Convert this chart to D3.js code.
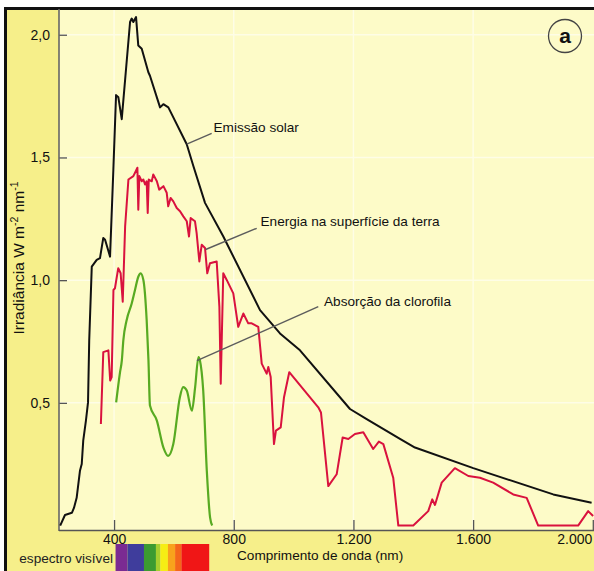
<!DOCTYPE html>
<html>
<head>
<meta charset="utf-8">
<script src="https://cdn.jsdelivr.net/npm/d3@7"></script>
<style>
  html, body { margin: 0; padding: 0; background: #fff; }
  svg { display: block; font-family: "Liberation Sans", Arial, sans-serif; }
</style>
</head>
<body>
<svg id="chart" width="594" height="571"></svg>
<script>
// Spectral irradiance (W m-2 nm-1) versus wavelength (nm)
const solarEmission = [
  [220,0],[236,0.043],[259,0.052],[266,0.072],[275,0.113],[286,0.223],[292,0.251],
  [297,0.346],[306,0.428],[313,0.502],[317,0.755],[325.5,1.055],[342,1.083],[353,1.09],
  [364,1.172],[370,1.165],[386.6,1.096],[397.7,1.451],[406.7,1.754],[414.4,1.745],
  [425.7,1.656],[453.5,2.052],[459,2.066],[464.5,2.052],[473.5,2.072],[481,1.956],
  [492.5,1.943],[514.6,1.847],[520,1.833],[553.7,1.704],[564.7,1.717],[581.4,1.704],
  [642.9,1.554],[665,1.465],[704,1.315],[765.2,1.178],[887.8,0.878],[954.6,0.783],
  [1021.4,0.714],[1188.5,0.475],[1244.3,0.434],[1355.6,0.353],[1405.7,0.318],
  [1600.5,0.234],[1867.8,0.127],[1996,0.093]
];

const surfaceEnergy = [
  [356,0.414],[364,0.707],[381,0.714],[387,0.591],[392,0.605],[398,0.96],[403,0.967],
  [414,1.049],[422,1.028],[429,0.912],[437,1.219],[448,1.41],[464.5,1.424],[472.5,1.444],
  [478,1.458],[481,1.287],[484.5,1.424],[492.5,1.403],[498,1.41],[503.5,1.39],[509,1.403],
  [512.5,1.274],[516,1.41],[526,1.403],[531,1.431],[543,1.403],[551,1.369],[565,1.383],
  [576,1.356],[581,1.301],[589,1.335],[598,1.321],[609.5,1.294],[620.5,1.281],[631.5,1.26],
  [643,1.24],[650.5,1.178],[656,1.253],[670.5,1.24],[676,1.192],[685,1.076],[693,1.144],
  [704,1.131],[711.5,1.028],[720.5,1.069],[743,1.076],[752,0.891],[756.5,0.578],
  [765,1.028],[776.5,1.001],[798.5,0.946],[815,0.81],[832,0.864],[848.5,0.824],[860,0.824],
  [882,0.81],[893.5,0.66],[910,0.619],[915.5,0.646],[923.5,0.605],[934.5,0.332],
  [941,0.387],[957,0.4],[968,0.523],[985.5,0.625],[1082.5,0.482],[1091.5,0.461],
  [1116,0.161],[1144,0.209],[1164,0.359],[1183,0.353],[1205,0.373],[1233,0.38],
  [1266,0.312],[1285,0.342],[1300,0.332],[1333,0.195],[1350,0],[1400,0],[1450,0.059],
  [1463.5,0.107],[1472.5,0.084],[1495,0.175],[1539,0.234],[1584,0.202],[1623,0.195],
  [1667,0.175],[1734,0.127],[1779,0.113],[1817.5,0],[1951,0],[1984.5,0.059],[2001,0.039]
];

const chlorophyllAbsorption = [
  [407,0.502],[420,0.625],[426,0.673],[431,0.755],[442,0.837],[459,0.905],[470,0.96],
  [481,1.014],[489,1.028],[498,1.001],[509,0.837],[515,0.673],[520,0.489],[543,0.428],
  [565,0.318],[581,0.284],[598,0.332],[620,0.523],[631,0.564],[643,0.55],[660,0.468],
  [671,0.564],[682,0.687],[687,0.673],[698,0.55],[710,0.223],[721,0.032],[728,0]
];

const yTicks = [0.5, 1.0, 1.5, 2.0];
const yTickLabels = ["0,5", "1,0", "1,5", "2,0"];
const xTicks = [400, 800, 1200, 1600, 2000];
const xTickLabels = ["400", "800", "1.200", "1.600", "2.000"];

// Visible spectrum bands: [start nm, end nm, colour]
const spectrumBands = [
  [405, 445, "#7a2b92"], [445, 500, "#3f3d9c"], [500, 540, "#3c9b31"],
  [540, 555, "#a6cf2e"], [555, 580, "#f6ee14"], [580, 604, "#f8a21c"],
  [604, 625, "#f4661a"], [625, 718, "#f01616"]
];

const seriesNames = ["Emissão solar", "Energia na superfície da terra", "Absorção da clorofila"];

const svg = d3.select("#chart");
const W = 594, H = 571;
const plot = { left: 59, right: 594, top: 8, bottom: 530 };

const x = d3.scaleLinear().domain([216, 2004]).range([plot.left, plot.right]);
const y = d3.scaleLinear().domain([-0.018, 2.109]).range([plot.bottom, plot.top]);

// Page frame and backgrounds
svg.append("rect").attr("x", 5).attr("y", 8).attr("width", W - 5).attr("height", H - 8)
  .attr("fill", "#f6ef8a");
svg.append("rect").attr("x", plot.left).attr("y", plot.top)
  .attr("width", plot.right - plot.left).attr("height", plot.bottom - plot.top)
  .attr("fill", "#fdfbc8");
svg.append("line").attr("x1", 4).attr("x2", W).attr("y1", 8.5).attr("y2", 8.5)
  .attr("stroke", "#111").attr("stroke-width", 3);
svg.append("line").attr("x1", 5.5).attr("x2", 5.5).attr("y1", 7).attr("y2", H)
  .attr("stroke", "#111").attr("stroke-width", 3);

// Faint grid
const grid = svg.append("g").attr("stroke", "#ffffff").attr("stroke-width", 1.5).attr("opacity", 0.55);
grid.selectAll("line.h").data(yTicks).join("line").attr("class", "h")
  .attr("x1", plot.left).attr("x2", plot.right)
  .attr("y1", d => y(d)).attr("y2", d => y(d));
grid.selectAll("line.v").data(xTicks.slice(0, 4)).join("line").attr("class", "v")
  .attr("x1", d => x(d)).attr("x2", d => x(d))
  .attr("y1", plot.top + 2).attr("y2", plot.bottom);

// Axes
const yAxis = d3.axisLeft(y).tickValues(yTicks)
  .tickFormat((d, i) => yTickLabels[i]).tickSize(-8).tickPadding(9);
const gy = svg.append("g").attr("transform", `translate(${plot.left},0)`).call(yAxis);
gy.select(".domain").remove();
gy.selectAll("line").attr("stroke", "#555").attr("stroke-width", 1.3);
gy.selectAll("text").attr("font-size", 14).attr("fill", "#111");

const xAxis = d3.axisBottom(x).tickValues(xTicks)
  .tickFormat((d, i) => xTickLabels[i]).tickSize(-10).tickPadding(4);
const gx = svg.append("g").attr("transform", `translate(0,${plot.bottom})`).call(xAxis);
gx.select(".domain").remove();
gx.selectAll("line").attr("stroke", "#555").attr("stroke-width", 1.3);
gx.selectAll("text").attr("font-size", 14).attr("fill", "#111");
// last label sits against the right edge of the page
gx.selectAll(".tick").filter(d => d === 2000).select("text")
  .attr("text-anchor", "end").attr("dx", -1);

svg.append("line").attr("x1", plot.left).attr("x2", plot.left)
  .attr("y1", plot.top + 1).attr("y2", plot.bottom + 1)
  .attr("stroke", "#666").attr("stroke-width", 1.6);
svg.append("line").attr("x1", plot.left).attr("x2", plot.right)
  .attr("y1", plot.bottom + 0.5).attr("y2", plot.bottom + 0.5)
  .attr("stroke", "#555").attr("stroke-width", 1.6);

// Curves
const lineSharp = d3.line().x(d => x(d[0])).y(d => y(d[1]));
const lineSmooth = d3.line().x(d => x(d[0])).y(d => y(d[1])).curve(d3.curveMonotoneX);

svg.append("path").datum(chlorophyllAbsorption).attr("d", lineSmooth)
  .attr("fill", "none").attr("stroke", "#58aa22").attr("stroke-width", 2.2)
  .attr("stroke-linejoin", "round");
svg.append("path").datum(surfaceEnergy).attr("d", lineSharp)
  .attr("fill", "none").attr("stroke", "#d9123e").attr("stroke-width", 2)
  .attr("stroke-linejoin", "round");
svg.append("path").datum(solarEmission).attr("d", lineSharp)
  .attr("fill", "none").attr("stroke", "#111").attr("stroke-width", 2)
  .attr("stroke-linejoin", "round");

// Series labels with leader lines (anchored on a point of each curve)
const annotations = [
  { name: seriesNames[0], anchor: [642.9, 1.554], end: [211.7, 133.3], text: [213.5, 132] },
  { name: seriesNames[1], anchor: [706, 1.125], end: [256.7, 228.3], text: [260.5, 226] },
  { name: seriesNames[2], anchor: [677, 0.672], end: [318.3, 306.7], text: [324, 306] }
];
const ann = svg.append("g");
annotations.forEach(a => {
  ann.append("line")
    .attr("x1", x(a.anchor[0])).attr("y1", y(a.anchor[1]))
    .attr("x2", a.end[0]).attr("y2", a.end[1])
    .attr("stroke", "#5c5c5c").attr("stroke-width", 1.4);
  ann.append("text").attr("x", a.text[0]).attr("y", a.text[1])
    .attr("font-size", 13.6).attr("fill", "#111").text(a.name);
});

// Y axis title
const yt = svg.append("text")
  .attr("transform", "translate(24,258) rotate(-90)")
  .attr("text-anchor", "middle").attr("font-size", 15.5).attr("fill", "#111");
yt.append("tspan").text("Irradiância W m");
yt.append("tspan").attr("font-size", 10.5).attr("dy", -6).text("-2");
yt.append("tspan").attr("dy", 6).text(" nm");
yt.append("tspan").attr("font-size", 10.5).attr("dy", -6).text("-1");

// X axis title
svg.append("text").attr("x", 237).attr("y", 560)
  .attr("font-size", 13.6).attr("fill", "#111").text("Comprimento de onda (nm)");

// Visible spectrum strip
svg.append("g").selectAll("rect").data(spectrumBands).join("rect")
  .attr("x", d => x(d[0])).attr("width", d => x(d[1]) - x(d[0]))
  .attr("y", 544).attr("height", H - 544)
  .attr("fill", d => d[2]);
svg.append("text").attr("x", 113).attr("y", 563).attr("text-anchor", "end")
  .attr("font-size", 13.6).attr("fill", "#222").text("espectro visível");

// Panel marker
svg.append("circle").attr("cx", 565).attr("cy", 36).attr("r", 16.5)
  .attr("fill", "none").attr("stroke", "#444").attr("stroke-width", 1.3);
svg.append("text").attr("x", 565).attr("y", 43).attr("text-anchor", "middle")
  .attr("font-size", 21).attr("font-weight", "bold").attr("fill", "#111").text("a");
</script>
</body>
</html>
